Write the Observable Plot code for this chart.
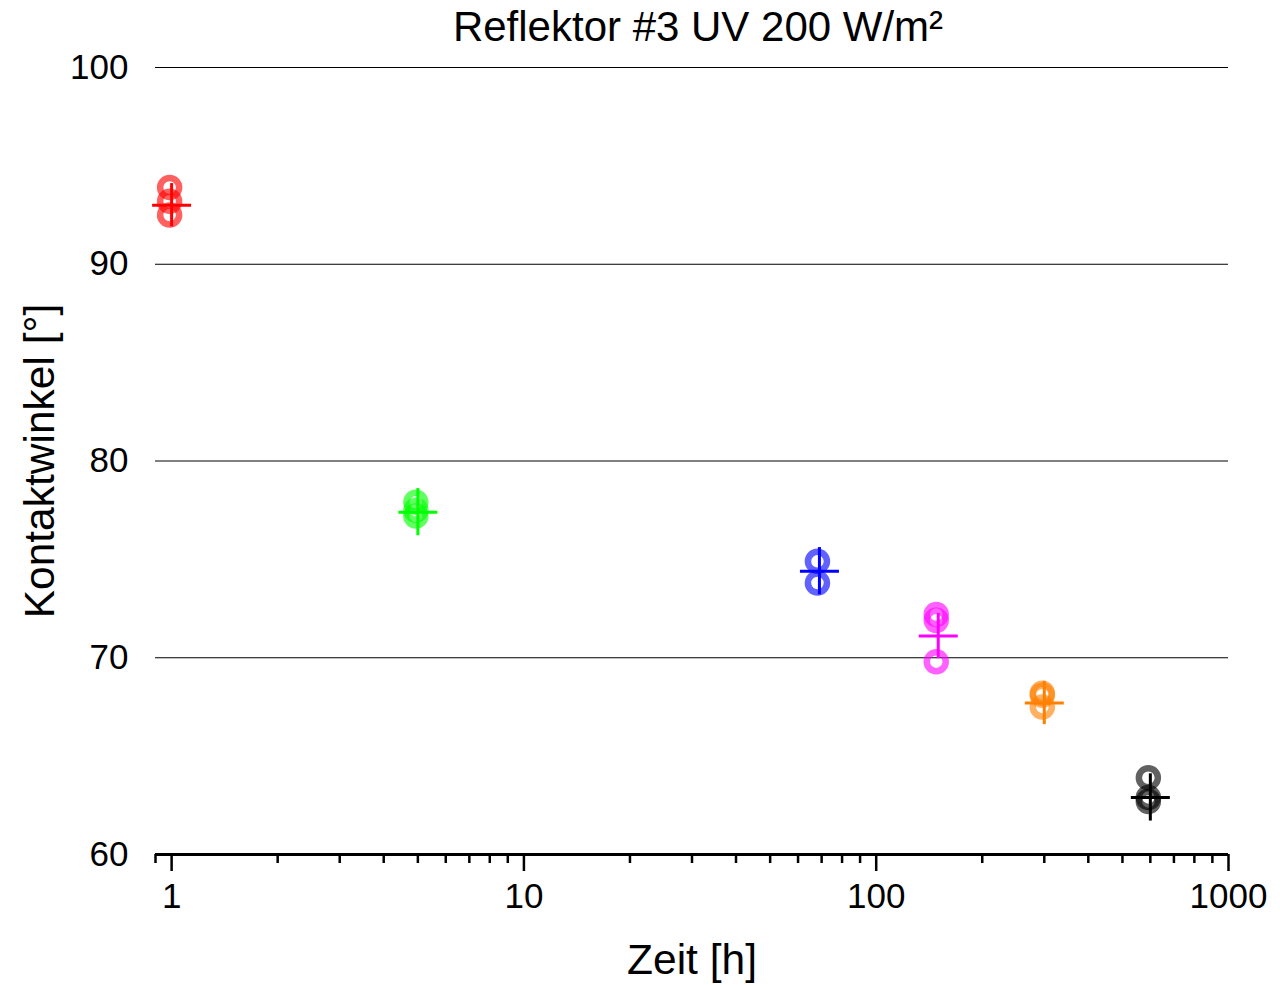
<!DOCTYPE html>
<html>
<head>
<meta charset="utf-8">
<script src="https://cdn.jsdelivr.net/npm/d3@7"></script>
<script src="https://cdn.jsdelivr.net/npm/@observablehq/plot@0.6"></script>
<style>
  body { margin: 0; background: #fff; }
</style>
</head>
<body>
<div id="chart"></div>
<script>
// Contact angle after UV exposure, reflector #3 at 200 W/m²
const times = [1, 5, 69, 150, 300, 600];                 // exposure time [h]
const colors = ["#ff0000", "#00ff00", "#0000ff", "#ff00ff", "#ff8000", "#000000"];
const measurements = [                                      // single readings [°]
  [93.9, 93.2, 92.5],
  [77.9, 77.5, 77.2],
  [74.9, 73.8],
  [72.2, 71.9, 69.8],
  [68.2, 68.1, 67.5],
  [63.9, 62.9, 62.7]
];
const means = [93.0, 77.4, 74.4, 71.1, 67.7, 62.9];        // mean [°]
const sds = [1.1, 1.2, 1.2, 1.15, 1.1, 1.2];               // standard deviation [°]

const xDomain = [0.9, 1000];
const yDomain = [60, 100];
const majorTicks = [1, 10, 100, 1000];
const minorTicks = [2, 3, 4, 5, 6, 7, 8, 9, 20, 30, 40, 50, 60, 70, 80, 90, 200, 300, 400, 500, 600, 700, 800, 900];
const yTicks = [60, 70, 80, 90, 100];
const gridValues = [70, 80, 90, 100];

const points = times.flatMap((t, i) =>
  measurements[i].map(v => ({time: t, value: v, color: colors[i]})));
const summary = times.map((t, i) => ({time: t, mean: means[i], sd: sds[i], color: colors[i]}));

// horizontal bar symbol for the mean marker
const hline = {
  draw(context, size) {
    const r = Math.sqrt(size / Math.PI);
    context.moveTo(-r, 0);
    context.lineTo(r, 0);
  }
};

const font = "'Liberation Sans', Arial, Helvetica, sans-serif";

const chart = Plot.plot({
  width: 1280,
  height: 985,
  marginLeft: 155,
  marginRight: 52,
  marginTop: 67,
  marginBottom: 131,
  style: {fontFamily: font, background: "#fff", color: "#000", overflow: "visible"},
  x: {type: "log", domain: xDomain, label: null},
  y: {domain: yDomain, label: null},
  color: {type: "identity"},
  marks: [
    Plot.ruleY(gridValues, {stroke: "#000", strokeWidth: 1}),
    Plot.axisY({ticks: yTicks, tickSize: 0, tickPadding: 27, fontSize: 35, tickFormat: d => String(d), label: null}),
    Plot.axisX({ticks: majorTicks, tickSize: 17, strokeWidth: 2.5, tickPadding: 12, fontSize: 35, tickFormat: d => String(d), label: null}),
    Plot.axisX({ticks: minorTicks, tickSize: 9, strokeWidth: 2.5, tickFormat: () => "", label: null}),
    Plot.axisX({ticks: [xDomain[0]], tickSize: 9, strokeWidth: 2.5, tickFormat: () => "", label: null}),
    Plot.ruleY([yDomain[0]], {stroke: "#000", strokeWidth: 3}),
    Plot.dot(points, {x: "time", y: "value", r: 9.5, stroke: "color", strokeWidth: 6.5, strokeOpacity: 0.62, fill: "none", dx: -2}),
    Plot.ruleX(summary, {x: "time", y1: d => d.mean - d.sd, y2: d => d.mean + d.sd, stroke: "color", strokeWidth: 3}),
    Plot.dot(summary, {x: "time", y: "mean", symbol: hline, r: 19.5, stroke: "color", strokeWidth: 3, fill: "none"}),
    Plot.text(["Reflektor #3 UV 200 W/m²"], {text: d => d, frameAnchor: "top", dx: 6, dy: -40, fontSize: 42, lineAnchor: "middle", textAnchor: "middle", fill: "#000"}),
    Plot.text(["Zeit [h]"], {text: d => d, frameAnchor: "bottom", dy: 106, fontSize: 42.5, lineAnchor: "middle", textAnchor: "middle", fill: "#000"}),
    Plot.text(["Kontaktwinkel [°]"], {text: d => d, frameAnchor: "left", dx: -115, rotate: -90, fontSize: 42.5, lineAnchor: "middle", textAnchor: "middle", fill: "#000"})
  ]
});

document.getElementById("chart").appendChild(chart);
</script>
</body>
</html>
